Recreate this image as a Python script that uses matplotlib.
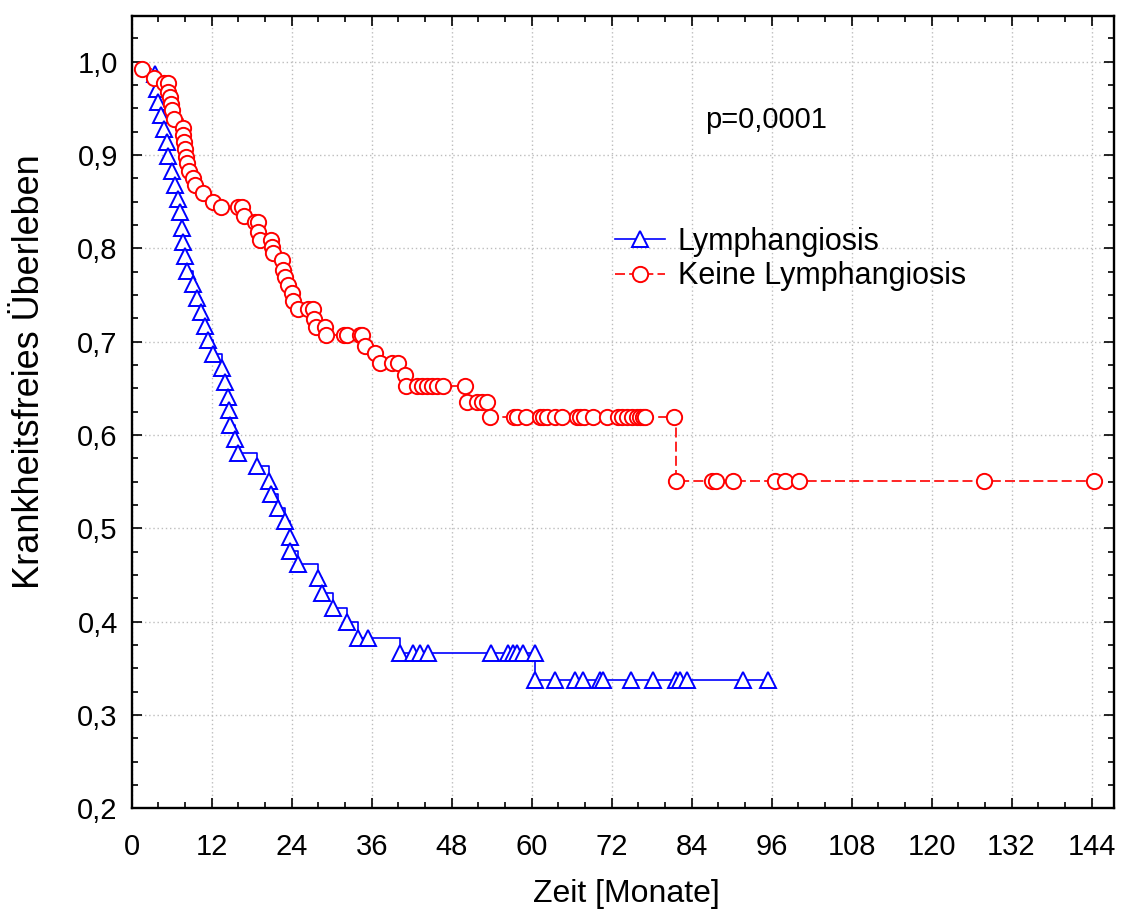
import numpy as np
import matplotlib
matplotlib.use("Agg")
import matplotlib.pyplot as plt
from matplotlib.ticker import MultipleLocator, FixedLocator

plt.rcParams['font.family'] = ['Liberation Sans', 'DejaVu Sans']

# --- data (months, survival) ---
lymph_t = [3.5, 3.75, 4.0, 4.4, 4.85, 5.3, 5.5, 6.0, 6.5, 6.95, 7.25, 7.5, 7.75, 8.0, 8.25,
           9.15, 9.75, 10.35, 11.0, 11.5, 12.15, 13.5, 14.0, 14.5, 14.6, 14.75, 15.5, 16.0,
           18.85, 20.6, 20.9, 21.95, 23.0, 23.8, 23.8, 24.95, 27.95, 28.5, 30.15, 32.25,
           34.0, 35.5, 40.3, 42.2, 43.25, 44.45, 53.85, 56.5, 57.15, 57.75, 58.75, 60.5,
           60.5, 63.5, 66.5, 67.65, 70.25, 70.65, 74.85, 78.15, 81.65, 82.25, 83.25, 91.65, 95.5]
lymph_s = [0.987, 0.971, 0.957, 0.943, 0.928, 0.914, 0.899, 0.883, 0.868, 0.853, 0.839, 0.822,
           0.807, 0.7915, 0.776, 0.762, 0.7465, 0.7316, 0.7165, 0.7015, 0.6868, 0.6715, 0.6566,
           0.641, 0.6265, 0.611, 0.596, 0.581, 0.5665, 0.551, 0.537, 0.522, 0.508, 0.491, 0.476,
           0.462, 0.4465, 0.4307, 0.415, 0.3997, 0.383, 0.383, 0.366, 0.366, 0.366, 0.366, 0.366,
           0.366, 0.366, 0.366, 0.366, 0.366, 0.3375, 0.3375, 0.3375, 0.3375, 0.3375, 0.3375,
           0.3375, 0.3375, 0.3375, 0.3375, 0.3375, 0.3375, 0.3375]

keine_t = [1.5, 3.4, 4.85, 5.4, 5.5, 5.75, 5.85, 6.0, 6.35, 7.65, 7.75, 7.85, 7.95, 8.15, 8.35,
           8.65, 9.15, 9.5, 10.75, 12.15, 13.35, 15.9, 16.6, 16.9, 18.5, 19.0, 19.0, 19.25, 20.85,
           21.0, 21.25, 22.5, 22.75, 23.0, 23.4, 24.0, 24.25, 25.0, 26.5, 27.25, 27.4, 27.6, 29.0,
           29.15, 31.8, 32.3, 34.2, 34.6, 35.0, 36.5, 37.25, 39.0, 40.0, 41.0, 41.15, 42.75, 43.5,
           44.25, 45.0, 45.75, 46.75, 50.0, 50.25, 51.75, 52.5, 53.25, 53.75, 57.3, 57.8, 59.1,
           61.25, 61.75, 62.35, 63.5, 64.5, 66.8, 67.3, 67.8, 69.2, 71.25, 73.0, 73.5, 74.25, 75.0,
           75.75, 76.25, 76.65, 77.0, 81.35, 81.6, 87.0, 87.65, 90.2, 96.5, 98.0, 100.1, 127.9, 144.35]
keine_s = [0.992, 0.983, 0.9775, 0.9775, 0.968, 0.9625, 0.955, 0.948, 0.939, 0.9286, 0.9215,
           0.914, 0.907, 0.898, 0.891, 0.883, 0.875, 0.868, 0.859, 0.85, 0.844, 0.844, 0.844,
           0.835, 0.828, 0.828, 0.818, 0.809, 0.809, 0.802, 0.795, 0.7875, 0.777, 0.769, 0.761,
           0.752, 0.744, 0.735, 0.735, 0.735, 0.724, 0.716, 0.716, 0.707, 0.707, 0.707, 0.707,
           0.707, 0.6954, 0.6876, 0.677, 0.677, 0.677, 0.664, 0.6525, 0.6525, 0.6525, 0.6525,
           0.6525, 0.6525, 0.6525, 0.6525, 0.6357, 0.6357, 0.6357, 0.6357, 0.619, 0.619, 0.619,
           0.619, 0.619, 0.619, 0.619, 0.619, 0.619, 0.619, 0.619, 0.619, 0.619, 0.619, 0.619,
           0.619, 0.619, 0.619, 0.619, 0.619, 0.619, 0.619, 0.619, 0.551, 0.551, 0.551, 0.551,
           0.551, 0.551, 0.551, 0.551, 0.551]

x_ticks = [0, 12, 24, 36, 48, 60, 72, 84, 96, 108, 120, 132, 144]
y_ticks = [0.2, 0.3, 0.4, 0.5, 0.6, 0.7, 0.8, 0.9, 1.0]
y_ticklabels = ['0,2', '0,3', '0,4', '0,5', '0,6', '0,7', '0,8', '0,9', '1,0']

# --- figure ---
fig = plt.figure(figsize=(11.25, 9.13), dpi=100)
ax = fig.add_axes([131.7 / 1125, 1 - 808.3 / 913, (1113.5 - 131.7) / 1125, (808.3 - 16) / 913])

ax.plot(lymph_t, lymph_s, color='#0000ff', lw=1.2, drawstyle='steps-post',
        marker='^', ms=12, mfc='white', mec='#0000ff', mew=1.4, label='Lymphangiosis')
ax.plot(keine_t, keine_s, color='#ff0000', lw=1.2, ls=(0, (6, 2.5)), drawstyle='steps-post',
        marker='o', ms=11, mfc='white', mec='#ff0000', mew=1.4, label='Keine Lymphangiosis')

ax.set_xlim(0, 147.3)
ax.set_ylim(0.2, 1.049)
ax.set_xticks(x_ticks)
ax.xaxis.set_minor_locator(MultipleLocator(4))
ax.yaxis.set_major_locator(FixedLocator(y_ticks))
ax.set_yticklabels(y_ticklabels)
ax.yaxis.set_minor_locator(MultipleLocator(0.025))

ax.tick_params(which='both', direction='in', top=True, right=True, labelsize=21, width=1.2)
ax.tick_params(which='major', length=7)
ax.tick_params(which='minor', length=4)
ax.tick_params(axis='x', which='major', pad=18)
ax.tick_params(axis='y', which='major', pad=10)
for sp in ax.spines.values():
    sp.set_linewidth(1.7)

ax.grid(True, which='major', color='#bdbdbd', ls=(0, (1, 2)), lw=1.0)
ax.set_axisbelow(True)

ax.set_xlabel('Zeit [Monate]', fontsize=23)
ax.set_ylabel('Krankheitsfreies Überleben', fontsize=26)
ax.xaxis.set_label_coords(0.504, -0.089)
ax.yaxis.set_label_coords(-0.086, 0.551)

ax.text(86, 0.9375, 'p=0,0001', fontsize=21, va='center', ha='left')

ax.legend(loc='upper left', bbox_to_anchor=(0.492, 0.734), frameon=False, fontsize=22,
          handlelength=1.65, handletextpad=0.42, labelspacing=0.15, borderpad=0,
          borderaxespad=0)

fig.savefig('out.png', dpi=100)
